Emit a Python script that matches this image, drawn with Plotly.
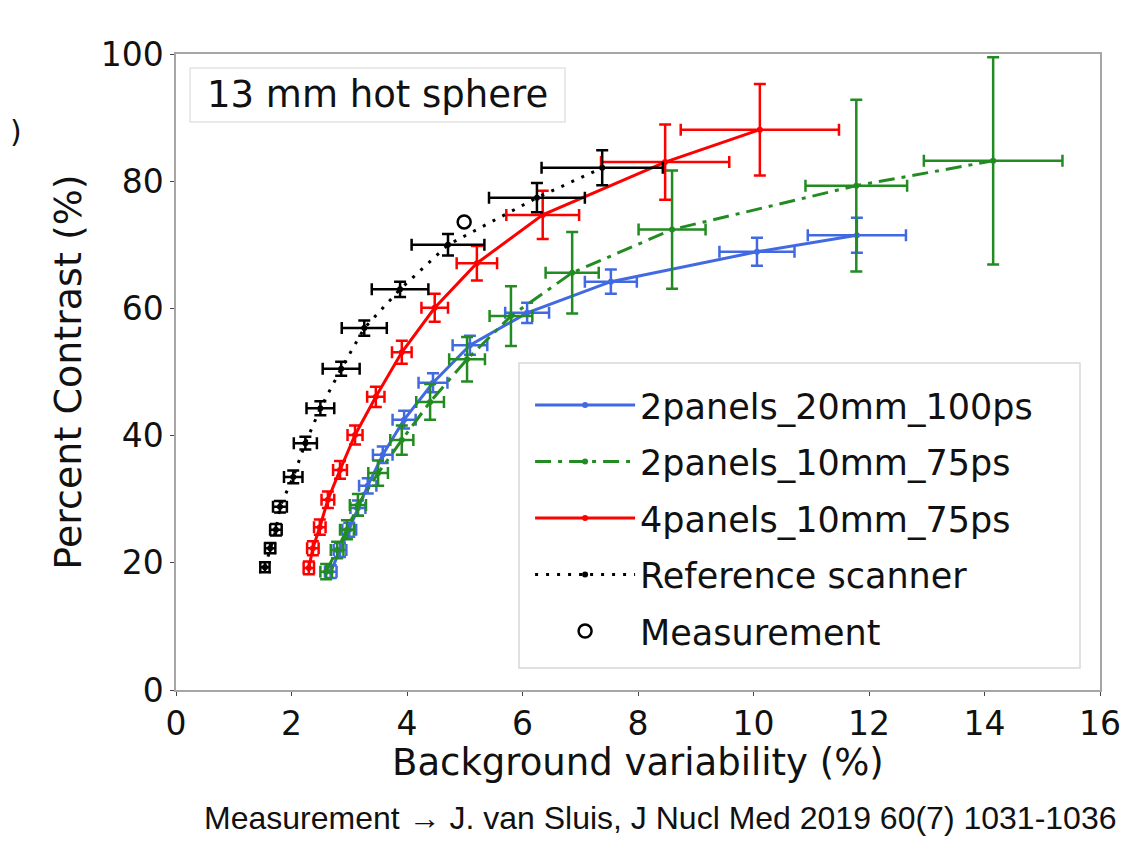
import plotly.graph_objects as go

# 2panels_20mm_100ps
blue_x = [2.68, 2.84, 3.00, 3.15, 3.32, 3.58, 3.95, 4.45, 5.09, 6.08, 7.53, 10.06, 11.79]
blue_y = [18.6, 22.0, 25.2, 28.6, 32.1, 37.0, 42.5, 48.3, 54.2, 59.3, 64.2, 68.9, 71.5]
blue_xerr = [0.10, 0.11, 0.12, 0.13, 0.15, 0.17, 0.20, 0.25, 0.30, 0.38, 0.45, 0.65, 0.85]
blue_yerr = [1.0, 1.1, 1.1, 1.2, 1.2, 1.3, 1.4, 1.5, 1.5, 1.6, 1.9, 2.2, 2.75]

# 2panels_10mm_75ps
green_x = [2.60, 2.79, 2.96, 3.15, 3.50, 3.91, 4.40, 5.04, 5.80, 6.86, 8.59, 11.78, 14.15]
green_y = [18.6, 22.0, 25.2, 29.1, 34.1, 39.3, 45.3, 52.0, 58.8, 65.6, 72.4, 79.3, 83.2]
green_xerr = [0.10, 0.11, 0.12, 0.14, 0.17, 0.20, 0.24, 0.31, 0.37, 0.46, 0.58, 0.88, 1.20]
green_yerr = [1.2, 1.3, 1.5, 1.7, 2.0, 2.3, 2.8, 3.5, 4.7, 6.4, 9.3, 13.5, 16.3]

# 4panels_10mm_75ps
red_x = [2.30, 2.37, 2.49, 2.63, 2.84, 3.10, 3.46, 3.91, 4.48, 5.21, 6.35, 8.47, 10.11]
red_y = [19.2, 22.3, 25.6, 29.9, 34.6, 40.1, 46.1, 53.1, 60.1, 67.1, 74.7, 83.0, 88.1]
red_xerr = [0.09, 0.10, 0.10, 0.11, 0.12, 0.13, 0.15, 0.17, 0.23, 0.35, 0.63, 1.11, 1.37]
red_yerr = [1.0, 1.1, 1.2, 1.3, 1.4, 1.5, 1.6, 1.8, 2.2, 2.7, 3.8, 5.9, 7.2]

# Reference scanner
ref_x = [1.54, 1.63, 1.73, 1.80, 2.03, 2.24, 2.50, 2.86, 3.26, 3.88, 4.71, 6.25, 7.38]
ref_y = [19.3, 22.3, 25.2, 28.8, 33.5, 38.8, 44.3, 50.5, 56.9, 63.0, 70.0, 77.4, 82.1]
ref_xerr = [0.08, 0.09, 0.10, 0.12, 0.16, 0.20, 0.24, 0.32, 0.39, 0.49, 0.63, 0.83, 1.05]
ref_yerr = [0.8, 0.8, 0.9, 0.9, 1.0, 1.0, 1.1, 1.1, 1.2, 1.2, 1.7, 2.3, 2.75]

# Measurement (van Sluis 2019)
meas_x = [4.99]
meas_y = [73.6]

FONT = "DejaVu Sans"

series = [
    ("2panels_20mm_100ps", blue_x, blue_y, blue_xerr, blue_yerr, "#4169e1", "solid"),
    ("2panels_10mm_75ps", green_x, green_y, green_xerr, green_yerr, "#228b22", "16px,7px,4px,7px"),
    ("4panels_10mm_75ps", red_x, red_y, red_xerr, red_yerr, "#ff0000", "solid"),
    ("Reference scanner", ref_x, ref_y, ref_xerr, ref_yerr, "#000000", "3px,8px"),
]

fig = go.Figure()
for i, (name, x, y, xe, ye, col, dash) in enumerate(series):
    fig.add_trace(go.Scatter(
        x=x, y=y, name=name, mode="lines+markers",
        line=dict(color=col, width=3, dash=dash),
        marker=dict(color=col, size=6),
        error_x=dict(type="data", array=xe, color=col, thickness=2.5, width=6),
        error_y=dict(type="data", array=ye, color=col, thickness=2.5, width=6),
        legendgroup=str(i),
    ))

fig.add_trace(go.Scatter(
    x=meas_x, y=meas_y, name="Measurement", mode="markers",
    marker=dict(symbol="circle-open", color="black", size=13, line=dict(width=2.5)),
    legendgroup="4",
))

axis_common = dict(
    showgrid=False, zeroline=False, showline=True, mirror=True,
    linecolor="#a6a6a6", linewidth=1.5, ticks="outside", ticklen=4,
    tickcolor="#444444", tickfont=dict(family=FONT, size=33, color="#111"),
)


def px_x(p):
    # reference pixel column -> paper x
    return (p - 176) / 924


def px_y(p):
    # reference pixel row -> paper y
    return (690 - p) / 636


# page has an 8px body margin, so plot area lands at x 176..1100, y 54..690
fig.update_layout(
    width=1146, height=855,
    paper_bgcolor="white", plot_bgcolor="white",
    margin=dict(l=168, r=54, t=46, b=173),
    font=dict(family=FONT, color="#111"),
    xaxis=dict(range=[0, 16], dtick=2, **axis_common),
    yaxis=dict(range=[0, 100], dtick=20,
               title=dict(text="Percent Contrast (%)", font=dict(size=38), standoff=7),
               **axis_common),
    legend=dict(x=px_x(519) + 0.012, y=px_y(363) - 0.02,
                xanchor="left", yanchor="top",
                bgcolor="rgba(0,0,0,0)", borderwidth=0,
                font=dict(family=FONT, size=35), itemwidth=100,
                traceorder="grouped", tracegroupgap=8),
    showlegend=True,
    shapes=[
        dict(type="rect", xref="paper", yref="paper", layer="above",
             x0=px_x(519), x1=px_x(1080), y0=px_y(668), y1=px_y(363),
             fillcolor="rgba(255,255,255,0.85)", line=dict(color="#d8d8d8", width=1.5)),
        dict(type="rect", xref="paper", yref="paper", layer="above",
             x0=px_x(190), x1=px_x(565), y0=px_y(122), y1=px_y(68),
             fillcolor="rgba(255,255,255,0.85)", line=dict(color="#e4e4e4", width=1.5)),
    ],
    annotations=[
        dict(text="13 mm hot sphere", xref="paper", yref="paper", x=px_x(205),
             y=px_y(94), xanchor="left", yanchor="middle", showarrow=False,
             font=dict(family=FONT, size=37, color="#111")),
        dict(text="Background variability (%)", xref="paper", yref="paper",
             x=0.5, y=px_y(762), xanchor="center", yanchor="middle", showarrow=False,
             font=dict(family=FONT, size=37, color="#111")),
        dict(text="Measurement \u2192 J. van Sluis, J Nucl Med 2019 60(7) 1031-1036",
             xref="paper", yref="paper", x=px_x(1118), y=px_y(818),
             xanchor="right", yanchor="middle", showarrow=False,
             font=dict(family="Liberation Sans", size=32, color="#111")),
        dict(text=")", xref="paper", yref="paper", x=px_x(8), y=px_y(131),
             xanchor="left", yanchor="middle", showarrow=False,
             font=dict(family=FONT, size=30, color="#111")),
    ],
)

fig.write_html("out.html")
